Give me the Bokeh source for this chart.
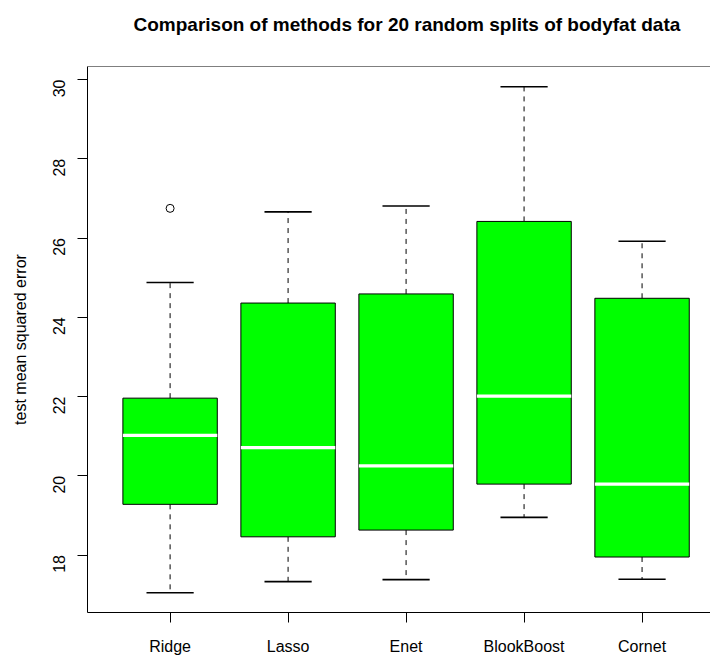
import math
from bokeh.plotting import figure
from bokeh.models import Range1d, FixedTicker, Span, ColumnDataSource
from bokeh.embed import file_html
from bokeh.resources import INLINE

methods = ["Ridge", "Lasso", "Enet", "BlookBoost", "Cornet"]
lower_whisker = [17.05, 17.33, 17.38, 18.95, 17.39]
q1 = [19.28, 18.46, 18.63, 19.79, 17.95]
median = [21.02, 20.71, 20.25, 22.01, 19.79]
q3 = [21.96, 24.36, 24.59, 26.42, 24.48]
upper_whisker = [24.88, 26.66, 26.81, 29.82, 25.92]
outlier_method = [1]
outlier_value = [26.75]
y_ticks = [18, 20, 22, 24, 26, 28, 30]
title_text = "Comparison of methods for 20 random splits of bodyfat data"

FONT = "Liberation Sans"
pos = list(range(1, len(methods) + 1))
half_box = 0.4
half_staple = 0.2

W, H = 710, 658
BL, BT, BB = 87, 66, 46

p = figure(width=W, height=H, output_backend="svg", toolbar_location=None,
           x_range=Range1d(0.3, 5.58), y_range=Range1d(16.55, 30.33),
           min_border_left=BL, min_border_right=0, min_border_top=BT,
           min_border_bottom=BB)
p.outline_line_color = None
p.grid.visible = False
p.background_fill_color = "white"

src = ColumnDataSource(dict(
    x=pos, left=[v - half_box for v in pos], right=[v + half_box for v in pos],
    sl=[v - half_staple for v in pos], sr=[v + half_staple for v in pos],
    lw=lower_whisker, q1=q1, med=median, q3=q3, uw=upper_whisker))

# whiskers (dashed)
p.segment(x0="x", y0="q3", x1="x", y1="uw", source=src, line_color="black",
          line_width=1, line_dash="5 5")
p.segment(x0="x", y0="q1", x1="x", y1="lw", source=src, line_color="black",
          line_width=1, line_dash="5 5")
# staples
p.segment(x0="sl", y0="uw", x1="sr", y1="uw", source=src, line_color="black", line_width=1.6)
p.segment(x0="sl", y0="lw", x1="sr", y1="lw", source=src, line_color="black", line_width=1.6)
# boxes
p.quad(left="left", right="right", bottom="q1", top="q3", source=src,
       fill_color="#00FF00", line_color="black", line_width=1)
# medians
p.segment(x0="left", y0="med", x1="right", y1="med", source=src,
          line_color="white", line_width=3.2)
# outliers
p.scatter(x=outlier_method, y=outlier_value, marker="circle", size=8,
          fill_color=None, line_color="black", line_width=1)

# top frame line
p.add_layout(Span(location=30.33, dimension="width", line_color="black", line_width=1))

p.title.text = title_text + "\n "
p.title.align = "left"
p.title.offset = 46
p.title.vertical_align = "top"
p.title.text_font = FONT
p.title.text_font_size = "19px"
p.title.text_font_style = "bold"
p.title.text_color = "black"
p.title.standoff = 18

for ax in (p.xaxis[0], p.yaxis[0]):
    ax.axis_line_color = "black"
    ax.axis_line_width = 1
    ax.major_tick_line_color = "black"
    ax.major_tick_out = 10
    ax.major_tick_in = 0
    ax.minor_tick_line_color = None
    ax.major_label_text_font = FONT
    ax.major_label_text_font_size = "16px"
    ax.major_label_text_color = "black"

p.xaxis.ticker = FixedTicker(ticks=pos)
p.xaxis.major_label_overrides = {i: m for i, m in zip(pos, methods)}
p.xaxis.major_label_standoff = 15

p.yaxis.ticker = FixedTicker(ticks=y_ticks)
p.yaxis.major_label_orientation = math.pi / 2
p.yaxis.major_label_standoff = 18
p.yaxis.axis_label = "test mean squared error"
p.yaxis.axis_label_text_font = FONT
p.yaxis.axis_label_text_font_size = "16px"
p.yaxis.axis_label_text_font_style = "normal"
p.yaxis.axis_label_text_color = "black"
p.yaxis.axis_label_standoff = 16

open("out.html", "w").write(file_html(p, INLINE))
